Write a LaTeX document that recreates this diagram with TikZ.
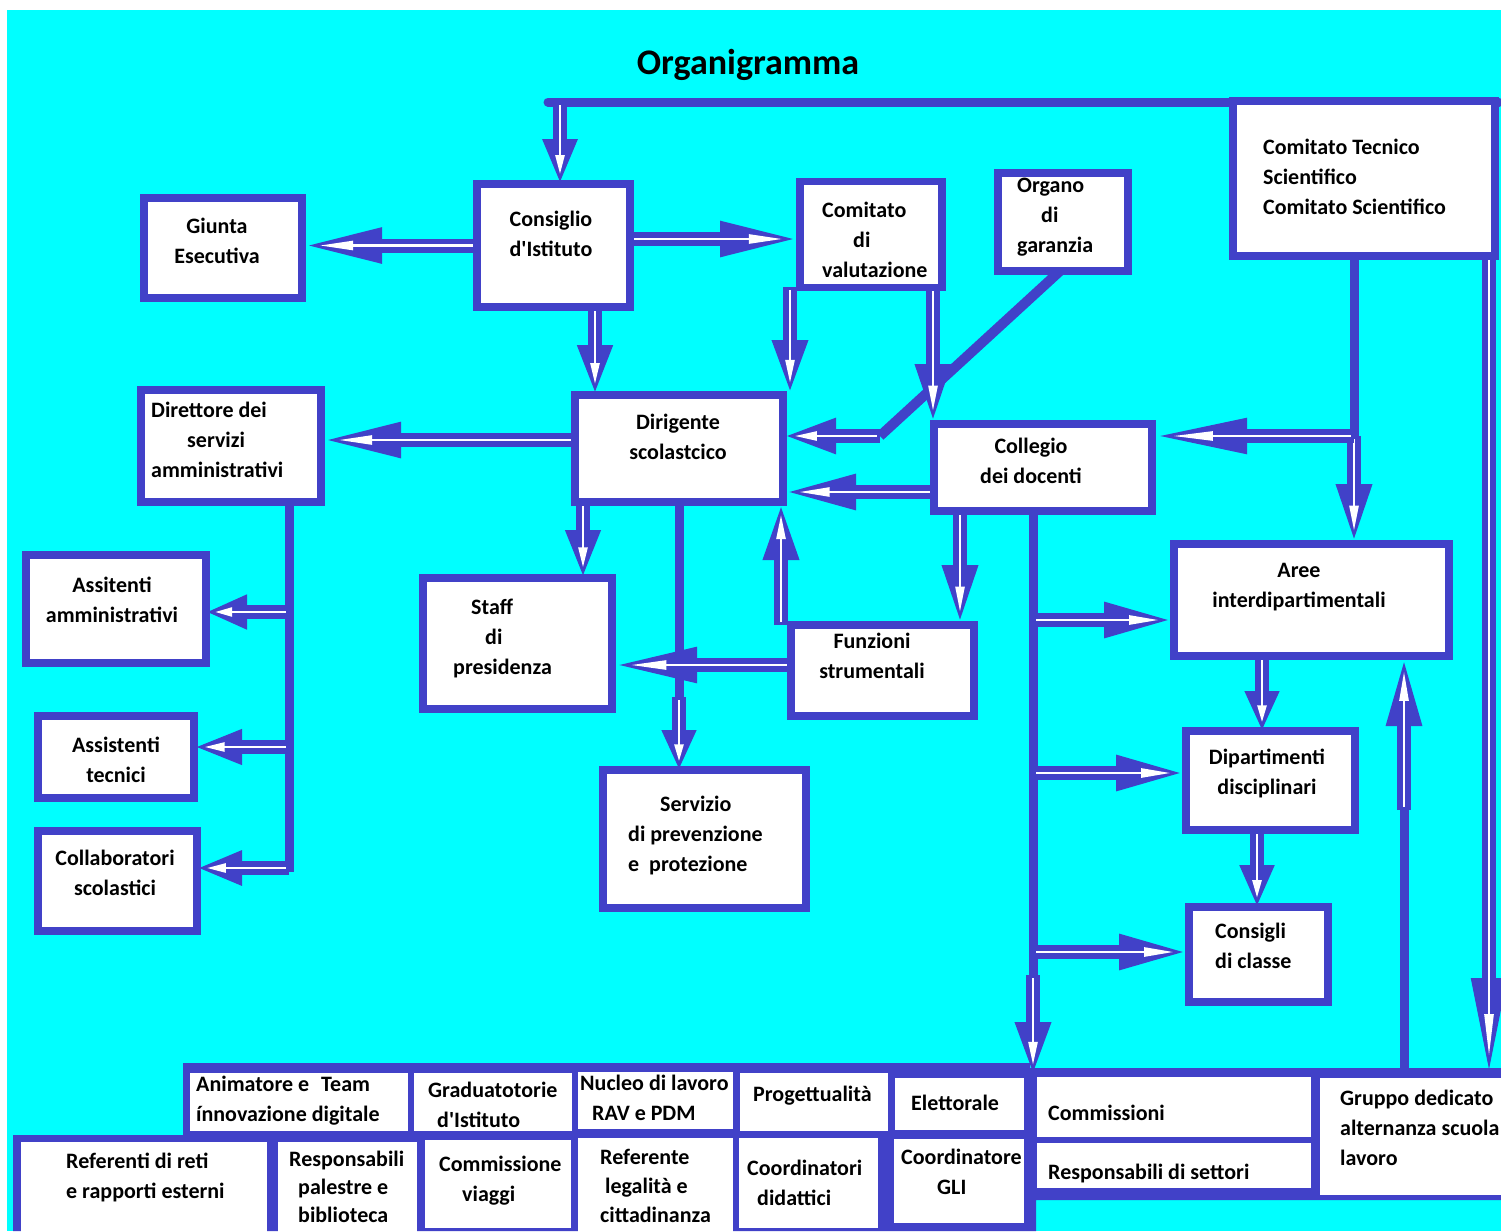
\documentclass[tikz,border=0pt]{standalone}
\usepackage{fontspec}
\setmainfont{Carlito}[Ligatures=TeXOff]
\usetikzlibrary{arrows.meta}
\definecolor{myblue}{RGB}{65,65,200}
\definecolor{mycyan}{RGB}{0,255,255}
\tikzset{
  box/.style={draw=myblue, line width=7.5pt, fill=white, inner sep=0pt, outer sep=0pt},
  wbox/.style={fill=white, draw=none, inner sep=0pt, outer sep=0pt},
  txt/.style={font=\fontsize{22}{30}\selectfont\bfseries, inner sep=0pt, text=black},
  plainline/.style={draw=myblue, line width=9pt},
}
\newcommand{\harr}[3][60]{%
  \pgfmathsetmacro{\arHL}{#1}%
  \pgfmathsetmacro{\arWL}{0.42*#1}%
  \pgfmathsetmacro{\arWS}{0.22*#1}%
  \draw[draw=myblue, line width=14pt, -{Triangle[length=\arHL pt,width=32pt]}] #2 -- #3;
  \draw[draw=white, line width=2.5pt, shorten <=3pt, shorten >=\arWS pt, -{Triangle[length=\arWL pt,width=9pt]}] #2 -- #3;
}
\begin{document}
\begin{tikzpicture}[x=1pt, y=-1pt]
\useasboundingbox (0,0) rectangle (1501,1231);
\fill[white] (0,0) rectangle (1501,1231);
\fill[mycyan] (7,10) rectangle (1501,1231);

% title
\node[font=\fontsize{36}{40}\selectfont\bfseries, inner sep=0pt] (title) at (748,65) {Organigramma};

% bottom blue band
\fill[myblue] (183,1063) -- (1030,1063) -- (1030,1068) -- (1501,1068) -- (1501,1200) -- (1036,1200) -- (1036,1231) -- (13,1231) -- (13,1135) -- (183,1135) -- cycle;

% ---------- box geometry (nodes defined first, drawn later) ----------
\path
  (223,248) node[minimum width=158pt, minimum height=100pt, inner sep=0pt, outer sep=0pt] (giunta) {}
  (553.5,245.5) node[minimum width=153pt, minimum height=123pt, inner sep=0pt, outer sep=0pt] (consiglio) {}
  (871,234.5) node[minimum width=142pt, minimum height=106pt, inner sep=0pt, outer sep=0pt] (comval) {}
  (1063,222) node[minimum width=130pt, minimum height=98pt, inner sep=0pt, outer sep=0pt] (organo) {}
  (1364,178.5) node[minimum width=262pt, minimum height=155pt, inner sep=0pt, outer sep=0pt] (cts) {}
  (231,446) node[minimum width=180pt, minimum height=112pt, inner sep=0pt, outer sep=0pt] (direttore) {}
  (679,448.5) node[minimum width=208pt, minimum height=107pt, inner sep=0pt, outer sep=0pt] (dirigente) {}
  (1043,467.5) node[minimum width=218pt, minimum height=87pt, inner sep=0pt, outer sep=0pt] (collegio) {}
  (116,609) node[minimum width=180pt, minimum height=108pt, inner sep=0pt, outer sep=0pt] (assamm) {}
  (517.5,643.5) node[minimum width=189pt, minimum height=131pt, inner sep=0pt, outer sep=0pt] (staff) {}
  (882.5,670.5) node[minimum width=183pt, minimum height=91pt, inner sep=0pt, outer sep=0pt] (funzioni) {}
  (704.5,839) node[minimum width=203pt, minimum height=138pt, inner sep=0pt, outer sep=0pt] (servizio) {}
  (1311.5,600) node[minimum width=275pt, minimum height=112pt, inner sep=0pt, outer sep=0pt] (aree) {}
  (116,757) node[minimum width=156pt, minimum height=82pt, inner sep=0pt, outer sep=0pt] (asstec) {}
  (1270.5,780.5) node[minimum width=169pt, minimum height=99pt, inner sep=0pt, outer sep=0pt] (dipart) {}
  (117.5,881) node[minimum width=159pt, minimum height=100pt, inner sep=0pt, outer sep=0pt] (collab) {}
  (1258.5,954.5) node[minimum width=139pt, minimum height=95pt, inner sep=0pt, outer sep=0pt] (consigli) {}
  (1174,1107) node[minimum width=274pt, minimum height=60pt, inner sep=0pt, outer sep=0pt] (commiss) {}
  (1412.5,1136.5) node[minimum width=185pt, minimum height=117pt, inner sep=0pt, outer sep=0pt] (gruppo) {};

% ---------- connector points ----------
\coordinate (t1) at (560,102);
\coordinate (t2) at (1489,102);
\coordinate (a2) at (630,239);
\coordinate (a3) at (595,307);
\coordinate (a4) at (790,287);
\coordinate (a5) at (933,287);
\coordinate (og) at (880,436);
\coordinate (a7) at (576,440);
\coordinate (a8) at (934,492);
\coordinate (a9) at (583,502);
\coordinate (sv) at (679,697);
\coordinate (a11) at (781,625);
\coordinate (a12) at (791,665);
\coordinate (a13) at (960,511);
\coordinate (cl0) at (1033,511);
\coordinate (cl1) at (1033,975);
\coordinate (b1) at (1033,620);
\coordinate (b2) at (1033,773);
\coordinate (b3) at (1033,952);
\coordinate (ct0) at (1354,256);
\coordinate (ct1) at (1354,436);
\coordinate (a16) at (1262,656);
\coordinate (a17) at (1257,830);
\coordinate (gr0) at (1404,1072);
\coordinate (gr1) at (1404,810);
\coordinate (d0) at (289,502);
\coordinate (d1) at (289,872);
\coordinate (e1) at (289,612);
\coordinate (e2) at (289,747);
\coordinate (e3) at (289,868);

% ---------- plain lines ----------
\draw[plainline, line cap=round] (548,102) -- (1499,102);
\draw[plainline, line width=10pt] ([xshift=-3pt]organo.south) -- (og);
\draw[plainline] (dirigente.south) -- (sv);
\draw[plainline] (cl0) -- (cl1);
\draw[plainline] (ct0) -- (ct1);
\draw[plainline] (gr0) -- (gr1);
\draw[plainline] (d0) -- (d1);

% ---------- hollow arrows ----------
\harr[45]{(t1)}{(t1 |- consiglio.north)}
\harr[100]{(t2)}{(t2 |- gruppo.north)}
\harr[80]{(consiglio.west)}{(consiglio.west -| giunta.east)}
\harr[80]{(a2)}{(a2 -| comval.west)}
\harr[50]{(a3)}{(a3 |- dirigente.north)}
\harr[55]{(a4)}{(a4 |- dirigente.north)}
\harr[60]{(a5)}{(a5 |- collegio.north)}
\harr[53]{(og)}{(og -| dirigente.east)}
\harr[80]{(a7)}{(a7 -| direttore.east)}
\harr[73]{(a8)}{(a8 -| dirigente.east)}
\harr[48]{(a9)}{(a9 |- staff.north)}
\harr[40]{(sv)}{(sv |- servizio.north)}
\harr[58]{(a11)}{(a11 |- dirigente.south)}
\harr[85]{(a12)}{(a12 -| staff.east)}
\harr[60]{(a13)}{(a13 |- funzioni.north)}
\harr[55]{(cl1)}{(cl1 |- commiss.north)}
\harr[70]{(b1)}{(b1 -| aree.west)}
\harr[70]{(b2)}{(b2 -| dipart.west)}
\harr[70]{(b3)}{(b3 -| consigli.west)}
\harr[60]{(ct1)}{(ct1 |- aree.north)}
\harr[95]{(ct1)}{(ct1 -| collegio.east)}
\harr[40]{(a16)}{(a16 |- dipart.north)}
\harr[42]{(a17)}{(a17 |- consigli.north)}
\harr[70]{(gr1)}{(gr1 |- aree.south)}
\harr[41]{(e1)}{(e1 -| assamm.east)}
\harr[48]{(e2)}{(e2 -| asstec.east)}
\harr[45]{(e3)}{(e3 -| collab.east)}

% ---------- boxes drawn ----------
\foreach \b in {giunta,consiglio,comval,organo,cts,direttore,dirigente,collegio,assamm,staff,funzioni,servizio,aree,asstec,dipart,collab,consigli}{
  \draw[myblue, line width=7.5pt, fill=white] (\b.north west) rectangle (\b.south east);
}

% bottom white boxes
\node[wbox, minimum width=218pt, minimum height=58pt] (anim) at (299,1102) {};
\node[wbox, minimum width=158pt, minimum height=58pt] (grad) at (493,1102) {};
\node[wbox, minimum width=155pt, minimum height=57pt] (nucleo) at (655.5,1100.5) {};
\node[wbox, minimum width=148pt, minimum height=58pt] (prog) at (814,1102) {};
\node[wbox, minimum width=129pt, minimum height=52pt] (elett) at (959.5,1104) {};
\fill[white] (commiss.north west) rectangle (commiss.south east);
\fill[white] (gruppo.north west) rectangle (gruppo.south east);
\node[wbox, minimum width=274pt, minimum height=45pt] (respset) at (1174,1165.5) {};
\node[wbox, minimum width=246pt, minimum height=93pt] (refreti) at (144,1188.5) {};
\node[wbox, minimum width=139pt, minimum height=93pt] (resppal) at (347.5,1188.5) {};
\node[wbox, minimum width=146pt, minimum height=88pt] (commviag) at (498,1184) {};
\node[wbox, minimum width=155pt, minimum height=97pt] (reflegal) at (655.5,1186.5) {};
\node[wbox, minimum width=139pt, minimum height=90pt] (coorddid) at (808.5,1183) {};
\node[wbox, minimum width=130pt, minimum height=84pt] (coordgli) at (959,1181) {};

% ---------- texts ----------
\node[txt, align=center] (giunta-t) at (217,241) {Giunta\\Esecutiva};
\node[txt, align=center] (consiglio-t) at (551,234) {Consiglio\\d'Istituto};
\node[txt, align=left, anchor=west] (comval-t) at (822,240) {Comitato\\\hspace*{31pt}di\\valutazione};
\node[txt, align=left, anchor=west] (organo-t) at (1017,217) {Organo\\\hspace*{24pt}di\\garanzia};
\node[txt, align=left, anchor=west] (cts-t) at (1263,177) {Comitato Tecnico\\Scientifico\\Comitato Scientifico};
\node[txt, align=left, anchor=west] (direttore-t) at (151,440) {Direttore dei\\\hspace*{36pt}servizi\\amministrativi};
\node[txt, align=center] (dirigente-t) at (678,437) {Dirigente\\scolastcico};
\node[txt, align=center] (collegio-t) at (1031,461) {Collegio\\dei docenti};
\node[txt, align=center] (assamm-t) at (112,600) {Assitenti\\amministrativi};
\node[txt, align=left, anchor=west] (staff-t) at (453,638) {\hspace*{18pt}Staff\\\hspace*{32pt}di\\presidenza};
\node[txt, align=center] (funzioni-t) at (872,656) {Funzioni\\strumentali};
\node[txt, align=center] (aree-t) at (1299,587) {Aree\\interdipartimentali};
\node[txt, align=center] (asstec-t) at (116,760) {Assistenti\\tecnici};
\node[txt, align=left, anchor=west] (servizio-t) at (628,835) {\hspace*{32pt}Servizio\\di prevenzione\\e\ \ protezione};
\node[txt, align=center] (dipart-t) at (1267,773) {Dipartimenti\\disciplinari};
\node[txt, align=center] (collab-t) at (115,873) {Collaboratori\\scolastici};
\node[txt, align=left, anchor=west] (consigli-t) at (1215,946) {Consigli\\di classe};

\node[txt, align=left, anchor=west] (anim-t) at (196,1101) {Animatore e\hspace{12pt}Team\\ínnovazione digitale};
\node[txt, align=left, anchor=west] (grad-t) at (428,1105) {Graduatotorie\\\hspace*{9pt}d'Istituto};
\node[txt, align=left, anchor=west] (nucleo-t) at (580,1098) {Nucleo di lavoro\\\hspace*{12pt}RAV e PDM};
\node[txt, anchor=west] (prog-t) at (753,1096) {Progettualità};
\node[txt, anchor=west] (elett-t) at (911,1103) {Elettorale};
\node[txt, anchor=west] (commiss-t) at (1048,1113) {Commissioni};
\node[txt, anchor=west] (respset-t) at (1048,1173) {Responsabili di settori};
\node[txt, align=left, anchor=west] (gruppo-t) at (1340,1128) {Gruppo dedicato\\alternanza scuola\\lavoro};
\node[txt, align=left, anchor=west] (refreti-t) at (66,1177) {Referenti di reti\\e rapporti esterni};
\node[txt, align=left, anchor=west, font=\fontsize{22}{28}\selectfont\bfseries] (resppal-t) at (289,1187) {Responsabili\\\hspace*{9pt}palestre e\\\hspace*{9pt}biblioteca};
\node[txt, align=left, anchor=west] (commviag-t) at (439,1181) {Commissione\\\hspace*{23pt}viaggi};
\node[txt, align=left, anchor=west, font=\fontsize{22}{29}\selectfont\bfseries] (reflegal-t) at (600,1186) {Referente\\\hspace*{5pt}legalità e\\cittadinanza};
\node[txt, align=left, anchor=west] (coorddid-t) at (747,1183) {Coordinatori\\\hspace*{10pt}didattici};
\node[txt, align=left, anchor=west] (coordgli-t) at (901,1172) {Coordinatore\\\hspace*{36pt}GLI};
\end{tikzpicture}
\end{document}
